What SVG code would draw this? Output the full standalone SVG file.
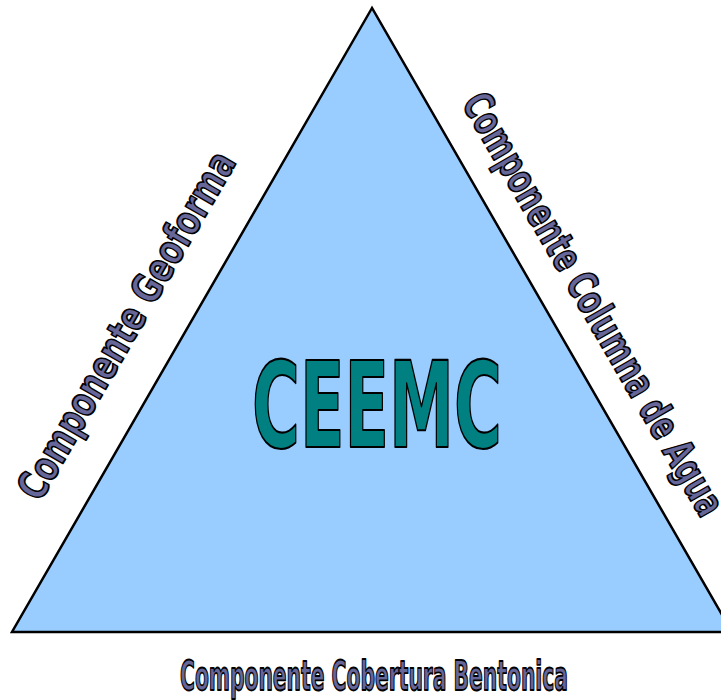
<svg xmlns="http://www.w3.org/2000/svg" width="721" height="700" viewBox="0 0 721 700">
  <style>
    .label { font-family: "DejaVu Sans", "Liberation Sans", sans-serif; font-weight: bold; fill: #666699; stroke: #000; stroke-width: 1.8; stroke-linejoin: round; }
    .title { font-family: "DejaVu Sans", "Liberation Sans", sans-serif; font-weight: bold; fill: #008080; stroke: #000; stroke-width: 2.2; stroke-linejoin: round; }
  </style>
  <rect width="721" height="700" fill="#fff"/>
  <g id="triangle">
    <polygon points="372,8 12,632 732,632" fill="#99CCFF" stroke="#000" stroke-width="2.5" stroke-linejoin="miter"/>
  </g>
  <g id="center">
    <text class="title" x="252" y="447" font-size="119" textLength="250" lengthAdjust="spacingAndGlyphs">CEEMC</text>
  </g>
  <g id="left-side">
    <text class="label" transform="translate(40,503) rotate(-60)" x="0" y="0" font-size="41" textLength="394" lengthAdjust="spacingAndGlyphs">Componente Geoforma</text>
  </g>
  <g id="right-side">
    <text class="label" transform="translate(461,103) rotate(60)" x="0" y="0" font-size="41" textLength="481" lengthAdjust="spacingAndGlyphs">Componente Columna de Agua</text>
  </g>
  <g id="bottom-side">
    <text class="label" x="180" y="690" font-size="41" textLength="388" lengthAdjust="spacingAndGlyphs">Componente Cobertura Bentonica</text>
  </g>
</svg>
